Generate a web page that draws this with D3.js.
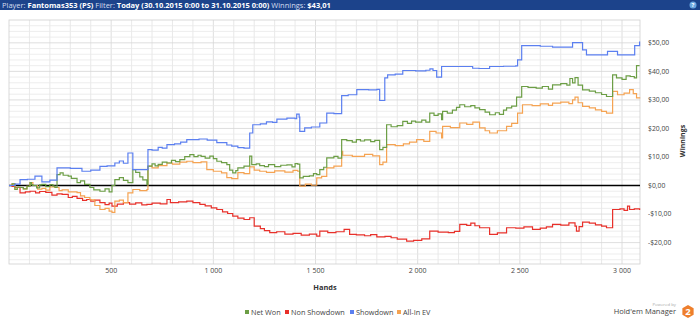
<!DOCTYPE html>
<html>
<head>
<meta charset="utf-8">
<script src="https://cdn.jsdelivr.net/npm/d3@7"></script>
<style>
  body { margin: 0; background: #fff; }
  svg { display: block; font-family: "Open Sans", "Noto Sans", sans-serif; }
</style>
</head>
<body>
<div id="chart"></div>
<script>
// step points [hand, winnings $]
var netWon = [[0,0],[15,0.6],[29,-1.4],[40,-0.6],[54,-0.7],[70,-1.2],[88,-0.3],[103,1],[110,0.3],[117,0],[135,-0.8],[150,0.2],[161,0.4],[180,-0.4],[200,0.3],[215,-0.2],[225,-0.7],[235,3.8],[250,4.4],[265,3.6],[290,3.3],[305,2.5],[333,1],[350,1.6],[370,0.4],[396,-0.7],[415,-1.5],[445,-2],[470,-1.2],[490,-2.2],[504,0],[518,2.1],[540,2.8],[560,1.8],[582,1],[606,5.6],[620,4.6],[640,3],[655,2],[675,0.3],[680,6.8],[700,7.6],[715,6.9],[730,7.4],[750,8.2],[773,7.9],[795,8.8],[815,8.4],[836,9.1],[860,10.1],[885,10.8],[905,10.1],[925,10.6],[940,10.2],[960,9.6],[983,10.3],[1000,9.4],[1017,8.5],[1040,8],[1066,7.3],[1080,5.4],[1095,4.4],[1110,5.2],[1120,6.2],[1150,6.8],[1178,10.3],[1188,7.3],[1210,7.6],[1227,7],[1250,6.6],[1270,7.3],[1300,6.6],[1330,7.1],[1360,7.2],[1385,6.5],[1400,7.7],[1413,7.5],[1423,2.7],[1440,3.2],[1470,3.4],[1490,4.2],[1506,3.8],[1521,5.6],[1540,6.4],[1555,9.7],[1590,10.2],[1610,9.6],[1628,16.1],[1653,15.7],[1680,15.2],[1700,16.1],[1720,15.6],[1740,16],[1770,15.4],[1790,15.8],[1814,12.6],[1830,13.4],[1848,21.3],[1870,20.6],[1900,21],[1927,22.5],[1950,21.8],[1970,22.6],[1990,22.2],[2020,22.9],[2040,22.2],[2059,25.4],[2080,24.6],[2100,25.1],[2117,23.1],[2122,26],[2145,25.4],[2170,26.4],[2190,27.4],[2206,28.3],[2230,27.6],[2260,28],[2280,27.2],[2303,26.6],[2330,25.7],[2352,24.8],[2380,25.5],[2400,24.9],[2420,26.4],[2435,27.2],[2460,27.8],[2484,31],[2509,34.7],[2540,34.4],[2580,34.1],[2610,34.7],[2640,33.8],[2660,35.3],[2700,35.7],[2730,35.2],[2745,37.5],[2758,36],[2770,37.8],[2785,35.2],[2807,33.5],[2840,33.1],[2870,32.5],[2900,31.9],[2924,31.2],[2954,38.8],[2973,37.7],[3000,37.2],[3020,38.4],[3040,38.2],[3060,37.7],[3071,42],[3086,42]];

var nonShowdown = [[0,0],[15,-0.3],[29,-0.7],[54,-2.6],[80,-2.2],[103,-2],[130,-2.6],[150,-2.1],[180,-2.4],[210,-3.4],[235,-2.9],[260,-3.1],[290,-4.2],[310,-3.8],[333,-4.5],[360,-5.2],[380,-4.9],[400,-5.5],[420,-5.1],[445,-6],[470,-6.7],[490,-6.2],[504,-7.2],[530,-6.5],[560,-6],[590,-6.5],[620,-6.1],[650,-6.8],[675,-6.6],[700,-6.2],[740,-6.4],[773,-4.9],[790,-6],[830,-5.7],[870,-5.5],[900,-6],[934,-6.6],[960,-7.1],[990,-7.8],[1017,-8.4],[1045,-9.2],[1070,-9.8],[1095,-10.7],[1120,-11.4],[1150,-11.9],[1178,-11.3],[1200,-14.2],[1230,-15.1],[1250,-15.8],[1276,-16.5],[1310,-16.2],[1350,-17],[1390,-16.8],[1430,-17.4],[1470,-17],[1506,-17.7],[1521,-16],[1560,-16.5],[1600,-16.2],[1640,-15.4],[1667,-17.1],[1700,-17.3],[1740,-17.6],[1770,-17.2],[1800,-18],[1840,-17.8],[1870,-18.3],[1900,-18.8],[1946,-19.5],[1980,-19.2],[2020,-18.7],[2059,-16],[2100,-16.3],[2150,-16.5],[2180,-16.1],[2206,-13.6],[2240,-14],[2260,-13.2],[2280,-14.1],[2303,-14.8],[2352,-17.1],[2390,-16.6],[2435,-14.8],[2480,-14.9],[2520,-14.5],[2562,-15.4],[2600,-14.9],[2630,-14.5],[2660,-13.6],[2700,-13.9],[2740,-13.1],[2770,-14.2],[2777,-16],[2790,-14.4],[2807,-12.8],[2840,-13.2],[2870,-13.8],[2900,-14.2],[2924,-14.8],[2954,-8.4],[2990,-8.2],[3010,-8.7],[3027,-7.2],[3037,-8.4],[3060,-8.2],[3086,-8.6]];

var showdown = [[0,0],[29,0.5],[54,2.1],[90,2.2],[127,3.3],[161,1.3],[200,1.9],[235,6.2],[300,6],[357,5],[400,5.4],[445,6.7],[480,6.9],[518,7.9],[540,8.6],[560,7.8],[582,11.4],[606,5.6],[680,12.6],[700,12.4],[730,13.4],[750,13.1],[773,14.3],[810,14.6],[840,15.2],[870,16.1],[930,16.3],[970,15.9],[1017,15],[1066,14.2],[1090,13.8],[1120,13.3],[1150,13.1],[1178,18.4],[1193,21.3],[1230,21.6],[1260,22.3],[1290,22.1],[1311,23.3],[1360,23.6],[1400,23.4],[1408,25],[1420,24],[1423,19],[1447,20.2],[1480,20.5],[1521,21.9],[1555,25.4],[1590,25.2],[1628,31.5],[1660,31.8],[1702,33.6],[1760,33.5],[1800,33.7],[1814,29.8],[1839,37.7],[1853,38.8],[1890,39],[1927,40.3],[1990,40.2],[2040,40.4],[2060,40.9],[2075,40.3],[2093,38],[2117,41.7],[2200,41.7],[2269,41.1],[2300,41],[2352,41.7],[2420,41.8],[2480,41.9],[2489,44],[2509,49],[2560,49],[2600,48.8],[2660,48.5],[2720,48.5],[2758,50.1],[2790,50.1],[2807,47.5],[2826,45.8],[2929,47],[2978,45.8],[3062,49],[3086,50.5]];

var allInEV = [[0,0],[15,0.6],[29,-1.4],[40,-0.6],[54,-0.7],[70,-1.2],[88,-0.3],[103,1],[117,0],[140,-1.3],[161,-1],[180,-1.6],[200,-0.5],[225,-0.7],[245,-1.8],[260,-1.5],[290,-2.2],[333,-2.5],[350,-3.6],[370,-4.2],[396,-5],[420,-7],[445,-8.4],[470,-8],[490,-9],[504,-9.4],[518,-5.5],[540,-5.1],[560,-6],[582,-2.6],[606,-1.4],[640,-1.8],[675,-1.4],[680,6.8],[700,6.2],[730,7],[773,7.9],[800,7.5],[836,8.2],[870,8.5],[900,8],[940,8.3],[968,5.6],[1000,5],[1040,4.4],[1066,2.8],[1090,2.4],[1120,4.5],[1150,4.2],[1178,6.5],[1200,5.4],[1227,5],[1260,4.6],[1300,5.1],[1350,4.7],[1390,5.3],[1413,5],[1423,-0.2],[1450,0.5],[1480,0.1],[1506,2.7],[1530,3.2],[1555,6.2],[1590,6.8],[1628,12],[1633,10.6],[1680,10.2],[1740,10.9],[1780,10.4],[1814,7.3],[1830,8.2],[1848,14.3],[1890,14],[1930,14.6],[1960,15.2],[1995,16.1],[2030,15.5],[2059,19],[2090,18.4],[2117,16.7],[2122,20.7],[2160,20.3],[2206,21.9],[2240,21.4],[2270,22.2],[2303,20.2],[2330,19.2],[2352,18.4],[2390,19.2],[2435,20.7],[2460,21.8],[2489,25.4],[2513,28.3],[2560,28],[2600,28.6],[2640,28.1],[2660,28.9],[2700,29.2],[2740,28.7],[2758,30],[2770,31],[2785,29],[2807,27.7],[2840,27.2],[2870,26.5],[2900,26],[2924,25.4],[2954,33],[2978,31.8],[3010,32.4],[3037,33.6],[3055,32.2],[3071,30.7],[3086,30.5]];

var seriesNames = ["Net Won", "Non Showdown", "Showdown", "All-In EV"];
var seriesColors = ["#6c9e45", "#e8302a", "#5b7ff0", "#f5a352"];
var xTicks = [500, 1000, 1500, 2000, 2500, 3000];
var yTicks = [-20, -10, 0, 10, 20, 30, 40, 50];

var width = 700, height = 321;
var margin = { left: 9, right: 60, top: 20, bottom: 57 };

var svg = d3.select("#chart").append("svg")
  .attr("width", width)
  .attr("height", height);

// header bar
svg.append("rect")
  .attr("x", 0).attr("y", 0)
  .attr("width", width).attr("height", 10)
  .attr("fill", "#1c438b");

var head = svg.append("text")
  .attr("x", 2).attr("y", 7.7)
  .attr("font-size", "7.5px")
  .attr("fill", "#fff");
var parts = [["Player: ", false], ["Fantomas353 (PS)", true], [" Filter: ", false],
  ["Today (30.10.2015 0:00 to 31.10.2015 0:00)", true], [" Winnings: ", false], ["$43,01", true]];
parts.forEach(function(p) {
  head.append("tspan")
    .attr("font-weight", p[1] ? "bold" : "normal")
    .attr("fill", p[1] ? "#fff" : "#d4ddef")
    .attr("xml:space", "preserve")
    .text(p[0]);
});

svg.append("circle").attr("cx", 693).attr("cy", 5).attr("r", 3.5).attr("fill", "#6aa6e0");
svg.append("text").attr("x", 693).attr("y", 7.2).attr("text-anchor", "middle")
  .attr("font-size", "6px").attr("font-weight", "bold").attr("fill", "#fff").text("?");

var x = d3.scaleLinear().domain([0, 3088]).range([margin.left, width - margin.right]);
var y = d3.scaleLinear().domain([-27.5, 58]).range([height - margin.bottom, margin.top]);

var plot = svg.append("g");

// grid
plot.selectAll("line.vg")
  .data(d3.range(100, 3088, 100))
  .enter().append("line")
  .attr("class", "vg")
  .attr("x1", function(d) { return x(d); }).attr("x2", function(d) { return x(d); })
  .attr("y1", y.range()[1]).attr("y2", y.range()[0])
  .attr("stroke", function(d) { return d % 500 === 0 ? "#d6d6d6" : "#e3e3e3"; })
  .attr("stroke-width", 0.8);

plot.selectAll("line.hg")
  .data(d3.range(-26, 58, 2))
  .enter().append("line")
  .attr("class", "hg")
  .attr("x1", x.range()[0]).attr("x2", x.range()[1])
  .attr("y1", function(d) { return y(d); }).attr("y2", function(d) { return y(d); })
  .attr("stroke", function(d) { return d % 10 === 0 ? "#d6d6d6" : "#e8e8e8"; })
  .attr("stroke-width", 0.8);

plot.append("rect")
  .attr("x", x.range()[0]).attr("y", y.range()[1])
  .attr("width", x.range()[1] - x.range()[0])
  .attr("height", y.range()[0] - y.range()[1])
  .attr("fill", "none").attr("stroke", "#d0d0d0").attr("stroke-width", 0.8);

// zero line
plot.append("line")
  .attr("x1", x.range()[0]).attr("x2", x.range()[1])
  .attr("y1", y(0)).attr("y2", y(0))
  .attr("stroke", "#000").attr("stroke-width", 1.6);

var line = d3.line()
  .x(function(d) { return x(d[0]); })
  .y(function(d) { return y(d[1]); })
  .curve(d3.curveStepAfter);

var allSeries = [netWon, nonShowdown, showdown, allInEV];
// draw order: red, orange, green, blue on top
[1, 3, 0, 2].forEach(function(i) {
  plot.append("path")
    .datum(allSeries[i])
    .attr("d", line)
    .attr("fill", "none")
    .attr("stroke", seriesColors[i])
    .attr("stroke-width", 1.2);
});

// axes labels
var fmtX = d3.formatLocale({ decimal: ",", thousands: " ", grouping: [3], currency: ["", ""] }).format(",d");
svg.append("g").selectAll("text")
  .data(xTicks)
  .enter().append("text")
  .attr("x", function(d) { return x(d); })
  .attr("y", 273)
  .attr("text-anchor", "middle")
  .attr("font-size", "7px")
  .attr("fill", "#444")
  .text(fmtX);

function fmtY(v) {
  var s = "$" + Math.abs(v).toFixed(2).replace(".", ",");
  return v < 0 ? "-" + s : s;
}
svg.append("g").selectAll("text")
  .data(yTicks)
  .enter().append("text")
  .attr("x", 648)
  .attr("y", function(d) { return y(d) + 2.4; })
  .attr("font-size", "6.8px")
  .attr("fill", "#444")
  .text(fmtY);

svg.append("text")
  .attr("transform", "translate(685," + 141 + ") rotate(-90)")
  .attr("text-anchor", "middle")
  .attr("font-size", "7px").attr("font-weight", "bold").attr("fill", "#333")
  .text("Winnings");

svg.append("text")
  .attr("x", 325).attr("y", 289.5)
  .attr("text-anchor", "middle")
  .attr("font-size", "7.4px").attr("font-weight", "bold").attr("fill", "#333")
  .text("Hands");

// legend
var legX = [245, 285, 350, 397];
var leg = svg.append("g").selectAll("g")
  .data(seriesNames)
  .enter().append("g")
  .attr("transform", function(d, i) { return "translate(" + legX[i] + ",312)"; });
leg.append("rect")
  .attr("x", 0).attr("y", -2).attr("width", 4).attr("height", 4)
  .attr("fill", function(d, i) { return seriesColors[i]; });
leg.append("text")
  .attr("x", 6).attr("y", 2.6)
  .attr("font-size", "7.3px").attr("fill", "#444")
  .text(function(d) { return d; });

// powered by logo
svg.append("text").attr("x", 676).attr("y", 305.5).attr("text-anchor", "end")
  .attr("font-size", "4.3px").attr("fill", "#aaa").text("Powered by");
svg.append("text").attr("x", 676).attr("y", 314.3).attr("text-anchor", "end")
  .attr("font-size", "7.5px").attr("fill", "#444").text("Hold'em Manager");
var hex = d3.range(6).map(function(k) {
  var a = Math.PI / 3 * k + Math.PI / 6;
  return [688 + 6.5 * Math.cos(a), 311.5 + 6.5 * Math.sin(a)];
});
svg.append("path").attr("d", "M" + hex.join("L") + "Z").attr("fill", "#ee7f2d");
svg.append("text").attr("x", 688).attr("y", 314.8).attr("text-anchor", "middle")
  .attr("font-size", "9.5px").attr("font-weight", "bold").attr("fill", "#fff").text("2");
</script>
</body>
</html>
